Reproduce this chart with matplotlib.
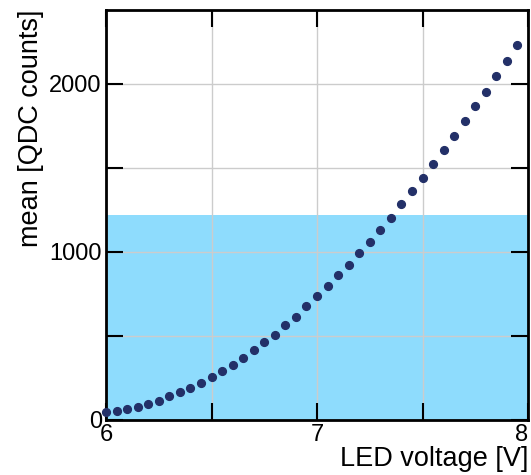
import numpy as np
import matplotlib.pyplot as plt
from matplotlib.ticker import MultipleLocator

plt.rcParams['font.family'] = ['Liberation Sans', 'DejaVu Sans']

# LED scan: mean QDC counts vs LED voltage
voltage = [6.00, 6.05, 6.10, 6.15, 6.20, 6.25, 6.30, 6.35, 6.40, 6.45,
           6.50, 6.55, 6.60, 6.65, 6.70, 6.75, 6.80, 6.85, 6.90, 6.95,
           7.00, 7.05, 7.10, 7.15, 7.20, 7.25, 7.30, 7.35, 7.40, 7.45,
           7.50, 7.55, 7.60, 7.65, 7.70, 7.75, 7.80, 7.85, 7.90, 7.95]
mean_qdc = [45, 54, 63, 78, 93, 115, 143, 164, 192, 223,
            255, 291, 328, 370, 417, 463, 508, 564, 613, 677,
            736, 795, 860, 923, 992, 1062, 1130, 1204, 1283, 1360,
            1439, 1522, 1605, 1692, 1777, 1868, 1954, 2047, 2138, 2231]
band_top = 1220  # shaded region upper edge
x_ticks = [6, 7, 8]
x_ticklabels = ['6', '7', '8']
y_ticks = [0, 1000, 2000]
y_ticklabels = ['0', '1000', '2000']

fig = plt.figure(figsize=(5.31, 4.75), dpi=100)
ax = fig.add_axes([106/531, 55/475, 422/531, 410/475])

ax.axhspan(0, band_top, color='#8edcfd', zorder=0, lw=0)
ax.plot(voltage, mean_qdc, 'o', color='#233068', markersize=5.6,
        clip_on=False, zorder=3)

ax.set_xlim(6, 8)
ax.set_ylim(0, 2440)
ax.set_xticks(x_ticks)
xl = ax.set_xticklabels(x_ticklabels)
xl[-1].set_ha('right')  # keep "8" inside the figure
ax.set_yticks(y_ticks)
ax.set_yticklabels(y_ticklabels)
ax.xaxis.set_minor_locator(MultipleLocator(0.5))
ax.yaxis.set_minor_locator(MultipleLocator(500))
ax.grid(True, which='both', color='#cccccc', lw=1, zorder=1)
ax.set_axisbelow(True)

ax.tick_params(which='both', direction='in', top=True, right=True,
               length=12, width=1.5, labelsize=17, pad=3)
for s in ax.spines.values():
    s.set_linewidth(2)

ax.set_xlabel('LED voltage [V]', fontsize=19.5, loc='right', labelpad=0)
ax.set_ylabel('mean [QDC counts]', fontsize=19.5, loc='top', labelpad=4)

fig.savefig('out.png', dpi=100)
